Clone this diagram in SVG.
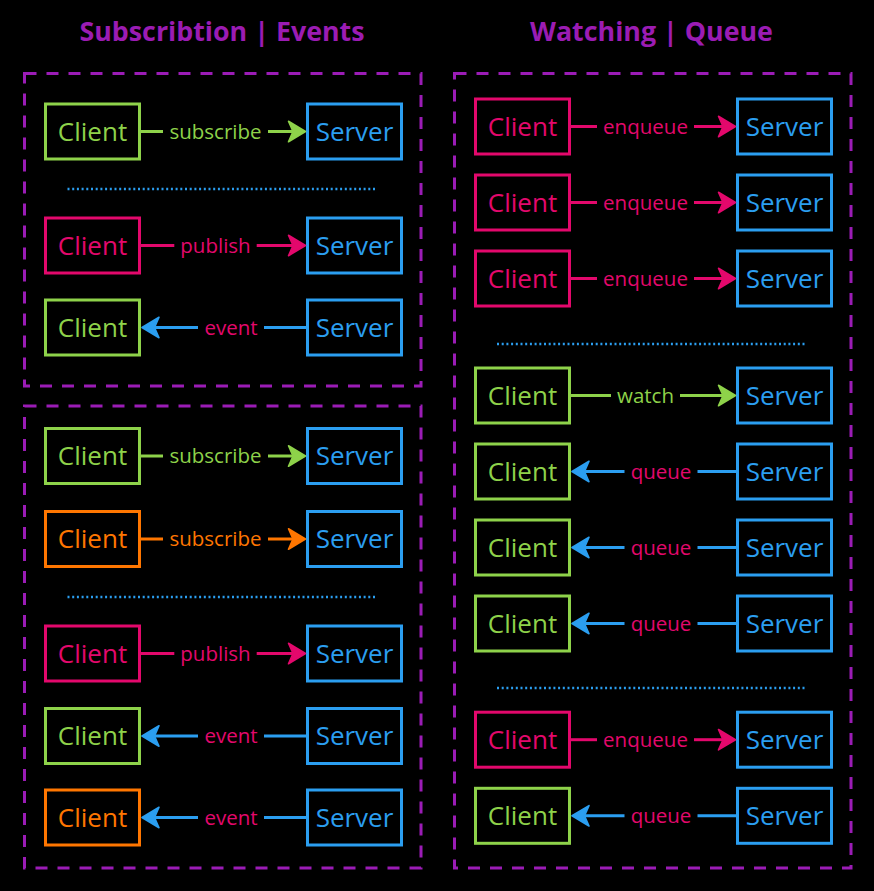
<svg xmlns="http://www.w3.org/2000/svg" width="874" height="891" viewBox="0 0 874 891">
<style>
.title{font-family:"Open Sans","Noto Sans","DejaVu Sans",sans-serif;font-weight:bold;font-size:26.8px;fill:#9b1cb3;text-anchor:middle}
.frame{fill:none;stroke:#9b1cb6;stroke-width:3;stroke-dasharray:12 10}
.sep{stroke:#2b9ef0;stroke-width:2.5;stroke-dasharray:2 2.7}
.box{fill:#000;stroke-width:3}
.nt{font-family:"Open Sans","Noto Sans","DejaVu Sans",sans-serif;font-size:26px;text-anchor:middle}
.et{font-family:"Open Sans","Noto Sans","DejaVu Sans",sans-serif;font-size:20.5px;text-anchor:middle}
.g{stroke:#8ed24a}.gt{fill:#8ed24a}
.p{stroke:#e3086c}.pt{fill:#e3086c}
.o{stroke:#ff7600}.ot{fill:#ff7600}
.b{stroke:#2b9ef0}.bt{fill:#2b9ef0}
.ln{stroke-width:3;fill:none}
</style>
<defs>
<marker id="ag" viewBox="-6 -12 21 24" markerWidth="21" markerHeight="24" refX="0" refY="0" orient="auto" markerUnits="userSpaceOnUse" overflow="visible"><path d="M12.5,0 L-4.5,-10.2 L0,0 L-4.5,10.2 Z" fill="#8ed24a" stroke="#8ed24a" stroke-width="1.6" stroke-linejoin="round"/></marker>
<marker id="ap" viewBox="-6 -12 21 24" markerWidth="21" markerHeight="24" refX="0" refY="0" orient="auto" markerUnits="userSpaceOnUse" overflow="visible"><path d="M12.5,0 L-4.5,-10.2 L0,0 L-4.5,10.2 Z" fill="#e3086c" stroke="#e3086c" stroke-width="1.6" stroke-linejoin="round"/></marker>
<marker id="ao" viewBox="-6 -12 21 24" markerWidth="21" markerHeight="24" refX="0" refY="0" orient="auto" markerUnits="userSpaceOnUse" overflow="visible"><path d="M12.5,0 L-4.5,-10.2 L0,0 L-4.5,10.2 Z" fill="#ff7600" stroke="#ff7600" stroke-width="1.6" stroke-linejoin="round"/></marker>
<marker id="ab" viewBox="-6 -12 21 24" markerWidth="21" markerHeight="24" refX="0" refY="0" orient="auto" markerUnits="userSpaceOnUse" overflow="visible"><path d="M12.5,0 L-4.5,-10.2 L0,0 L-4.5,10.2 Z" fill="#2b9ef0" stroke="#2b9ef0" stroke-width="1.6" stroke-linejoin="round"/></marker>
</defs>
<rect x="0" y="0" width="874" height="891" fill="#000"/>

<text class="title" x="222" y="40.5">Subscribtion | Events</text>
<text class="title" x="651.5" y="40.5">Watching | Queue</text>

<g id="frames">
<rect class="frame" x="24.5" y="73.5" width="396.5" height="312.5"/>
<rect class="frame" x="24.5" y="406" width="396.5" height="462"/>
<rect class="frame" x="454.5" y="73.5" width="396.5" height="794.5"/>
</g>

<g id="separators">
<line class="sep" x1="67.5" y1="189" x2="375.5" y2="189"/>
<line class="sep" x1="67.5" y1="597" x2="375.5" y2="597"/>
<line class="sep" x1="497" y1="344" x2="805" y2="344"/>
<line class="sep" x1="497" y1="688" x2="805" y2="688"/>
</g>

<!-- Left column nodes -->
<g id="l1-client"><rect class="box g" x="45.5" y="104" width="94" height="55"/><text class="nt gt" x="92.5" y="140.8">Client</text></g>
<g id="l1-server"><rect class="box b" x="307.5" y="104" width="94" height="55"/><text class="nt bt" x="354.5" y="140.8">Server</text></g>
<g id="l2-client"><rect class="box p" x="45.5" y="218" width="94" height="55"/><text class="nt pt" x="92.5" y="254.8">Client</text></g>
<g id="l2-server"><rect class="box b" x="307.5" y="218" width="94" height="55"/><text class="nt bt" x="354.5" y="254.8">Server</text></g>
<g id="l3-client"><rect class="box g" x="45.5" y="300" width="94" height="55"/><text class="nt gt" x="92.5" y="336.8">Client</text></g>
<g id="l3-server"><rect class="box b" x="307.5" y="300" width="94" height="55"/><text class="nt bt" x="354.5" y="336.8">Server</text></g>
<g id="l4-client"><rect class="box g" x="45.5" y="428.5" width="94" height="55"/><text class="nt gt" x="92.5" y="465.3">Client</text></g>
<g id="l4-server"><rect class="box b" x="307.5" y="428.5" width="94" height="55"/><text class="nt bt" x="354.5" y="465.3">Server</text></g>
<g id="l5-client"><rect class="box o" x="45.5" y="511.5" width="94" height="55"/><text class="nt ot" x="92.5" y="548.3">Client</text></g>
<g id="l5-server"><rect class="box b" x="307.5" y="511.5" width="94" height="55"/><text class="nt bt" x="354.5" y="548.3">Server</text></g>
<g id="l6-client"><rect class="box p" x="45.5" y="626" width="94" height="55"/><text class="nt pt" x="92.5" y="662.8">Client</text></g>
<g id="l6-server"><rect class="box b" x="307.5" y="626" width="94" height="55"/><text class="nt bt" x="354.5" y="662.8">Server</text></g>
<g id="l7-client"><rect class="box g" x="45.5" y="708.5" width="94" height="55"/><text class="nt gt" x="92.5" y="745.3">Client</text></g>
<g id="l7-server"><rect class="box b" x="307.5" y="708.5" width="94" height="55"/><text class="nt bt" x="354.5" y="745.3">Server</text></g>
<g id="l8-client"><rect class="box o" x="45.5" y="790" width="94" height="55"/><text class="nt ot" x="92.5" y="826.8">Client</text></g>
<g id="l8-server"><rect class="box b" x="307.5" y="790" width="94" height="55"/><text class="nt bt" x="354.5" y="826.8">Server</text></g>

<!-- Right column nodes -->
<g id="r1-client"><rect class="box p" x="475.5" y="99" width="94" height="55"/><text class="nt pt" x="522.5" y="135.8">Client</text></g>
<g id="r1-server"><rect class="box b" x="737.5" y="99" width="94" height="55"/><text class="nt bt" x="784.5" y="135.8">Server</text></g>
<g id="r2-client"><rect class="box p" x="475.5" y="175" width="94" height="55"/><text class="nt pt" x="522.5" y="211.8">Client</text></g>
<g id="r2-server"><rect class="box b" x="737.5" y="175" width="94" height="55"/><text class="nt bt" x="784.5" y="211.8">Server</text></g>
<g id="r3-client"><rect class="box p" x="475.5" y="251" width="94" height="55"/><text class="nt pt" x="522.5" y="287.8">Client</text></g>
<g id="r3-server"><rect class="box b" x="737.5" y="251" width="94" height="55"/><text class="nt bt" x="784.5" y="287.8">Server</text></g>
<g id="r4-client"><rect class="box g" x="475.5" y="368" width="94" height="55"/><text class="nt gt" x="522.5" y="404.8">Client</text></g>
<g id="r4-server"><rect class="box b" x="737.5" y="368" width="94" height="55"/><text class="nt bt" x="784.5" y="404.8">Server</text></g>
<g id="r5-client"><rect class="box g" x="475.5" y="444" width="94" height="55"/><text class="nt gt" x="522.5" y="480.8">Client</text></g>
<g id="r5-server"><rect class="box b" x="737.5" y="444" width="94" height="55"/><text class="nt bt" x="784.5" y="480.8">Server</text></g>
<g id="r6-client"><rect class="box g" x="475.5" y="520" width="94" height="55"/><text class="nt gt" x="522.5" y="556.8">Client</text></g>
<g id="r6-server"><rect class="box b" x="737.5" y="520" width="94" height="55"/><text class="nt bt" x="784.5" y="556.8">Server</text></g>
<g id="r7-client"><rect class="box g" x="475.5" y="596" width="94" height="55"/><text class="nt gt" x="522.5" y="632.8">Client</text></g>
<g id="r7-server"><rect class="box b" x="737.5" y="596" width="94" height="55"/><text class="nt bt" x="784.5" y="632.8">Server</text></g>
<g id="r8-client"><rect class="box p" x="475.5" y="712.2" width="94" height="55"/><text class="nt pt" x="522.5" y="749">Client</text></g>
<g id="r8-server"><rect class="box b" x="737.5" y="712.2" width="94" height="55"/><text class="nt bt" x="784.5" y="749">Server</text></g>
<g id="r9-client"><rect class="box g" x="475.5" y="788.3" width="94" height="55"/><text class="nt gt" x="522.5" y="825.1">Client</text></g>
<g id="r9-server"><rect class="box b" x="737.5" y="788.3" width="94" height="55"/><text class="nt bt" x="784.5" y="825.1">Server</text></g>

<g id="connectors">
<!-- L1 subscribe -->
<g><line class="ln g" x1="141" y1="131.5" x2="163" y2="131.5"/><line class="ln g" x1="268" y1="131.5" x2="293" y2="131.5" marker-end="url(#ag)"/><text class="et gt" x="215.5" y="138.5">subscribe</text></g>
<!-- L2 publish -->
<g><line class="ln p" x1="141" y1="245.5" x2="174.3" y2="245.5"/><line class="ln p" x1="256.7" y1="245.5" x2="293" y2="245.5" marker-end="url(#ap)"/><text class="et pt" x="215.5" y="252.5">publish</text></g>
<!-- L3 event -->
<g><line class="ln b" x1="306" y1="327.5" x2="264" y2="327.5"/><line class="ln b" x1="198" y1="327.5" x2="154.5" y2="327.5" marker-end="url(#ab)"/><text class="et pt" x="231" y="334.5">event</text></g>
<!-- L4 subscribe -->
<g><line class="ln g" x1="141" y1="456" x2="163" y2="456"/><line class="ln g" x1="268" y1="456" x2="293" y2="456" marker-end="url(#ag)"/><text class="et gt" x="215.5" y="463">subscribe</text></g>
<!-- L5 subscribe orange -->
<g><line class="ln o" x1="141" y1="539" x2="163" y2="539"/><line class="ln o" x1="268" y1="539" x2="293" y2="539" marker-end="url(#ao)"/><text class="et ot" x="215.5" y="546">subscribe</text></g>
<!-- L6 publish -->
<g><line class="ln p" x1="141" y1="653.5" x2="174.3" y2="653.5"/><line class="ln p" x1="256.7" y1="653.5" x2="293" y2="653.5" marker-end="url(#ap)"/><text class="et pt" x="215.5" y="660.5">publish</text></g>
<!-- L7 event -->
<g><line class="ln b" x1="306" y1="736" x2="264" y2="736"/><line class="ln b" x1="198" y1="736" x2="154.5" y2="736" marker-end="url(#ab)"/><text class="et pt" x="231" y="743">event</text></g>
<!-- L8 event -->
<g><line class="ln b" x1="306" y1="817.5" x2="264" y2="817.5"/><line class="ln b" x1="198" y1="817.5" x2="154.5" y2="817.5" marker-end="url(#ab)"/><text class="et pt" x="231" y="824.5">event</text></g>

<!-- R1-R3 enqueue -->
<g><line class="ln p" x1="571" y1="126.5" x2="597" y2="126.5"/><line class="ln p" x1="694" y1="126.5" x2="723" y2="126.5" marker-end="url(#ap)"/><text class="et pt" x="645.5" y="133.5">enqueue</text></g>
<g><line class="ln p" x1="571" y1="202.5" x2="597" y2="202.5"/><line class="ln p" x1="694" y1="202.5" x2="723" y2="202.5" marker-end="url(#ap)"/><text class="et pt" x="645.5" y="209.5">enqueue</text></g>
<g><line class="ln p" x1="571" y1="278.5" x2="597" y2="278.5"/><line class="ln p" x1="694" y1="278.5" x2="723" y2="278.5" marker-end="url(#ap)"/><text class="et pt" x="645.5" y="285.5">enqueue</text></g>
<!-- R4 watch -->
<g><line class="ln g" x1="571" y1="395.5" x2="611" y2="395.5"/><line class="ln g" x1="680" y1="395.5" x2="723" y2="395.5" marker-end="url(#ag)"/><text class="et gt" x="645.5" y="402.5">watch</text></g>
<!-- R5-R7 queue -->
<g><line class="ln b" x1="736" y1="471.5" x2="697.5" y2="471.5"/><line class="ln b" x1="624.5" y1="471.5" x2="584.5" y2="471.5" marker-end="url(#ab)"/><text class="et pt" x="661" y="478.5">queue</text></g>
<g><line class="ln b" x1="736" y1="547.5" x2="697.5" y2="547.5"/><line class="ln b" x1="624.5" y1="547.5" x2="584.5" y2="547.5" marker-end="url(#ab)"/><text class="et pt" x="661" y="554.5">queue</text></g>
<g><line class="ln b" x1="736" y1="623.5" x2="697.5" y2="623.5"/><line class="ln b" x1="624.5" y1="623.5" x2="584.5" y2="623.5" marker-end="url(#ab)"/><text class="et pt" x="661" y="630.5">queue</text></g>
<!-- R8 enqueue -->
<g><line class="ln p" x1="571" y1="739.7" x2="597" y2="739.7"/><line class="ln p" x1="694" y1="739.7" x2="723" y2="739.7" marker-end="url(#ap)"/><text class="et pt" x="645.5" y="746.7">enqueue</text></g>
<!-- R9 queue -->
<g><line class="ln b" x1="736" y1="815.8" x2="697.5" y2="815.8"/><line class="ln b" x1="624.5" y1="815.8" x2="584.5" y2="815.8" marker-end="url(#ab)"/><text class="et pt" x="661" y="822.8">queue</text></g>
</g>
</svg>
